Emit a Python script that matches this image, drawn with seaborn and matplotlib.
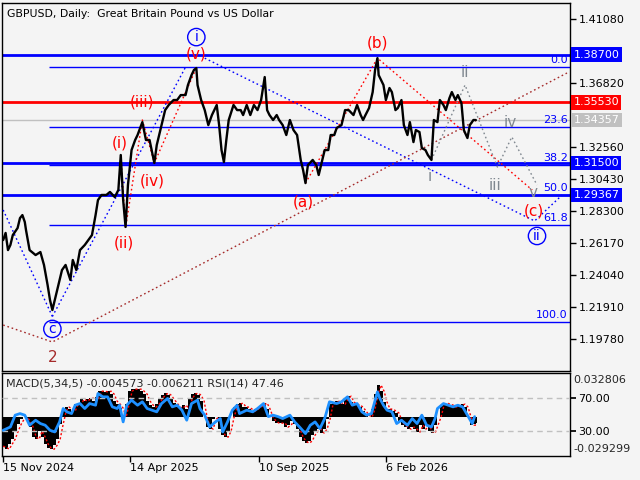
import numpy as np
import matplotlib
matplotlib.use("Agg")
import matplotlib.pyplot as plt
import matplotlib.transforms as mtransforms
import seaborn as sns

sns.set_theme(style="white")
plt.rcParams["font.family"] = ["DejaVu Sans"]

BG = "#f4f4f4"
BLUE = "#0000ff"
RED = "#ff0000"
BROWN = "#a52a2a"
GRAY = "#808890"

# ---------------- data ----------------
price_bar = [0, 2, 4, 6, 8, 12, 14, 16, 18, 19, 22, 27, 31, 34, 37, 39, 41, 43, 46, 49,
             52, 56, 58, 61, 64, 68, 71, 74, 77, 79, 82, 86, 89, 93, 96, 98, 100, 102, 104, 107,
             110, 112, 116, 119, 122, 126, 128, 132, 135, 138, 142, 145, 148, 152, 154, 157, 159, 161, 162, 165,
             168, 171, 174, 178, 180, 182, 184, 186, 188, 192, 195, 198, 200, 203, 206, 209, 212, 215, 218, 220,
             222, 225, 228, 230, 233, 236, 239, 242, 245, 248, 250, 252, 254, 258, 261, 263, 266, 268, 271, 273,
             276, 278, 282, 285, 288, 292, 295, 298, 300, 302, 305, 308, 310, 312, 313, 317, 319, 322, 324, 327,
             329, 332, 334, 337, 339, 342, 344, 347, 349, 352, 354, 357, 359, 362, 364, 367, 369, 372, 374, 377,
             379, 382, 384, 387, 389, 392, 394]
price_close = [1.2637, 1.2684, 1.2570, 1.2604, 1.2670, 1.2717, 1.2783, 1.2803, 1.2757, 1.2704,
               1.2570, 1.2537, 1.2557, 1.2471, 1.2338, 1.2238, 1.2171, 1.2238, 1.2338, 1.2437,
               1.2471, 1.2371, 1.2504, 1.2437, 1.2570, 1.2604, 1.2637, 1.2670, 1.2803, 1.2903,
               1.2937, 1.2937, 1.2957, 1.2923, 1.2970, 1.3203, 1.2903, 1.2724, 1.3003, 1.3236,
               1.3303, 1.3336, 1.3422, 1.3303, 1.3303, 1.3150, 1.3269, 1.3402, 1.3502, 1.3536,
               1.3569, 1.3569, 1.3602, 1.3602, 1.3669, 1.3735, 1.3769, 1.3782, 1.3669, 1.3569,
               1.3502, 1.3402, 1.3469, 1.3536, 1.3402, 1.3236, 1.3156, 1.3303, 1.3436, 1.3536,
               1.3502, 1.3502, 1.3469, 1.3536, 1.3469, 1.3536, 1.3502, 1.3569, 1.3722, 1.3502,
               1.3469, 1.3436, 1.3469, 1.3436, 1.3402, 1.3336, 1.3436, 1.3369, 1.3336, 1.3170,
               1.3103, 1.3016, 1.3136, 1.3170, 1.3136, 1.3070, 1.3170, 1.3236, 1.3236, 1.3336,
               1.3336, 1.3383, 1.3402, 1.3502, 1.3502, 1.3469, 1.3536, 1.3469, 1.3436, 1.3469,
               1.3516, 1.3622, 1.3769, 1.3848, 1.3735, 1.3669, 1.3569, 1.3649, 1.3622, 1.3502,
               1.3516, 1.3569, 1.3402, 1.3336, 1.3422, 1.3289, 1.3369, 1.3356, 1.3249, 1.3236,
               1.3203, 1.3170, 1.3436, 1.3422, 1.3569, 1.3536, 1.3502, 1.3582, 1.3622, 1.3569,
               1.3602, 1.3549, 1.3369, 1.3316, 1.3402, 1.3436, 1.34357]

date_tick_bars = [0, 106, 213, 319]
date_tick_labels = ["15 Nov 2024", "14 Apr 2025", "10 Sep 2025", "6 Feb 2026"]

price_ticks = [1.19780, 1.21910, 1.24040, 1.26170, 1.28300, 1.30430,
               1.32560, 1.34690, 1.36820, 1.38950, 1.41080]
hidden_tick_labels = [1.34690, 1.38950]   # covered by the level boxes

key_levels = [1.38700, 1.35530, 1.34357, 1.31500, 1.29367]
key_colors = [BLUE, RED, "#c0c0c0", BLUE, BLUE]
key_widths = [2.0, 2.0, 1.0, 2.0, 2.0]

fib_high = 1.3788
fib_low = 1.2091
fib_start_bar = 38
fib_pcts = [0.0, 23.6, 38.2, 50.0, 61.8, 100.0]

# wave labels: text, bar, price, colour, circled, fontsize
wave_labels = [
    ("i", 161, 1.3988, BLUE, True, 10),
    ("(v)", 161, 1.3875, RED, False, 11),
    ("(iii)", 116, 1.3556, RED, False, 11),
    ("(i)", 97.5, 1.3283, RED, False, 11),
    ("(iv)", 124, 1.3030, RED, False, 11),
    ("(ii)", 101, 1.2617, RED, False, 11),
    ("c", 41, 1.2045, BLUE, True, 10),
    ("2", 41, 1.1855, BROWN, False, 11),
    ("(a)", 250, 1.2890, RED, False, 11),
    ("(b)", 312, 1.3948, RED, False, 11),
    ("ii", 385, 1.3749, GRAY, False, 11),
    ("i", 356, 1.3063, GRAY, False, 11),
    ("iii", 410, 1.3003, GRAY, False, 11),
    ("iv", 422.5, 1.3422, GRAY, False, 11),
    ("v", 442, 1.2956, GRAY, False, 11),
    ("(c)", 442.5, 1.2830, RED, False, 11),
    ("ii", 445, 1.2664, BLUE, True, 10),
]

# dotted wave paths: colour, bars, prices
wave_paths = [
    (BLUE, [0, 41], [1.2837, 1.2128]),
    (BLUE, [41, 152], [1.2128, 1.3788]),
    (BLUE, [168, 443, 466], [1.3848, 1.2764, 1.2937]),
    (RED, [98, 102, 116, 126, 161], [1.3203, 1.2717, 1.3436, 1.3150, 1.3782]),
    (RED, [252, 312, 441], [1.3016, 1.3848, 1.2970]),
    (BROWN, [0, 41, 470], [1.2071, 1.1958, 1.3749]),
    (GRAY, [357, 385, 412, 424, 445], [1.3170, 1.3669, 1.3123, 1.3323, 1.3003]),
]

macd_step = 2.5
macd_vals = [-0.0227, -0.0242, -0.0204, -0.0167, -0.0107, -0.0055, -0.0017, -0.0002, -0.0032, -0.0077,
             -0.0152, -0.0167, -0.0107, -0.0152, -0.0204, -0.0234, -0.0242, -0.0212, -0.0167, -0.0055,
             0.0043, 0.0073, 0.0058, 0.0043, 0.0095, 0.0095, 0.0132, 0.0117, 0.0132, 0.0140,
             0.0117, 0.0147, 0.0192, 0.0192, 0.0185, 0.0192, 0.0170, 0.0117, 0.0095, 0.0065,
             -0.0002, 0.0095, 0.0192, 0.0207, 0.0207, 0.0207, 0.0192, 0.0170, 0.0117, 0.0088,
             0.0073, 0.0095, 0.0132, 0.0162, 0.0177, 0.0162, 0.0132, 0.0103, 0.0073, 0.0065,
             0.0088, 0.0058, 0.0132, 0.0170, 0.0177, 0.0162, 0.0117, -0.0002, -0.0077, -0.0092,
             -0.0017, -0.0002, -0.0092, -0.0137, -0.0152, -0.0107, -0.0002, 0.0073, 0.0095, 0.0103,
             0.0073, 0.0073, 0.0058, 0.0043, 0.0058, 0.0073, 0.0088, 0.0103, 0.0058, -0.0002,
             -0.0032, -0.0047, -0.0047, -0.0047, -0.0077, -0.0062, -0.0032, -0.0055, -0.0092, -0.0152,
             -0.0182, -0.0197, -0.0182, -0.0137, -0.0107, -0.0092, -0.0122, -0.0092, -0.0017, 0.0095,
             0.0103, 0.0117, 0.0103, 0.0095, 0.0132, 0.0155, 0.0110, 0.0095, 0.0088, 0.0073,
             0.0043, 0.0013, -0.0002, 0.0058, 0.0170, 0.0237, 0.0192, 0.0110, 0.0058, 0.0058,
             0.0043, 0.0028, -0.0032, -0.0062, -0.0077, -0.0092, -0.0077, -0.0092, -0.0114, -0.0062,
             -0.0092, -0.0062, -0.0107, -0.0122, -0.0062, -0.0002, 0.0088, 0.0103, 0.0095, 0.0088,
             0.0073, 0.0080, 0.0088, 0.0095, 0.0073, -0.0002, -0.0062, -0.0055, -0.0046]
macd_signal = [-0.0220, -0.0227, -0.0242, -0.0204, -0.0167, -0.0107, -0.0055, -0.0017, -0.0002, -0.0032,
               -0.0077, -0.0152, -0.0167, -0.0107, -0.0152, -0.0204, -0.0234, -0.0242, -0.0212, -0.0167,
               -0.0055, 0.0043, 0.0073, 0.0058, 0.0043, 0.0095, 0.0095, 0.0132, 0.0117, 0.0132,
               0.0140, 0.0117, 0.0147, 0.0192, 0.0192, 0.0185, 0.0192, 0.0170, 0.0117, 0.0095,
               0.0065, -0.0002, 0.0095, 0.0192, 0.0207, 0.0207, 0.0207, 0.0192, 0.0170, 0.0117,
               0.0088, 0.0073, 0.0095, 0.0132, 0.0162, 0.0177, 0.0162, 0.0132, 0.0103, 0.0073,
               0.0065, 0.0088, 0.0058, 0.0132, 0.0170, 0.0177, 0.0162, 0.0117, -0.0002, -0.0077,
               -0.0092, -0.0017, -0.0002, -0.0092, -0.0137, -0.0152, -0.0107, -0.0002, 0.0073, 0.0095,
               0.0103, 0.0073, 0.0073, 0.0058, 0.0043, 0.0058, 0.0073, 0.0088, 0.0103, 0.0058,
               -0.0002, -0.0032, -0.0047, -0.0047, -0.0047, -0.0077, -0.0062, -0.0032, -0.0055, -0.0092,
               -0.0152, -0.0182, -0.0197, -0.0182, -0.0137, -0.0107, -0.0092, -0.0122, -0.0092, -0.0017,
               0.0095, 0.0103, 0.0117, 0.0103, 0.0095, 0.0132, 0.0155, 0.0110, 0.0095, 0.0088,
               0.0073, 0.0043, 0.0013, -0.0002, 0.0058, 0.0170, 0.0237, 0.0192, 0.0110, 0.0058,
               0.0058, 0.0043, 0.0028, -0.0032, -0.0062, -0.0077, -0.0092, -0.0077, -0.0092, -0.0114,
               -0.0062, -0.0092, -0.0062, -0.0107, -0.0122, -0.0062, -0.0002, 0.0088, 0.0103, 0.0095,
               0.0088, 0.0073, 0.0080, 0.0088, 0.0095, 0.0073, -0.0002, -0.0062, -0.0062]

rsi_bar = [0, 6, 10, 14, 18, 22, 27, 31, 35, 39, 43, 47, 50, 53, 57, 60, 64, 68, 72, 77,
           79, 83, 87, 91, 95, 97, 100, 103, 107, 112, 116, 120, 124, 128, 132, 137, 141, 145, 149, 153,
           157, 162, 164, 168, 172, 177, 181, 183, 187, 191, 195, 197, 203, 208, 212, 217, 221, 225, 229, 233,
           239, 243, 247, 252, 256, 260, 264, 268, 272, 278, 282, 287, 291, 295, 299, 303, 307, 312, 314, 317,
           320, 324, 328, 332, 337, 341, 345, 349, 353, 357, 360, 362, 367, 371, 375, 379, 383, 387, 391, 393]
rsi_vals = [31.0, 35.0, 49.2, 51.1, 49.2, 37.1, 43.1, 39.1, 37.1, 31.0,
            29.0, 41.1, 57.2, 53.2, 51.1, 61.2, 63.2, 57.2, 63.2, 61.2,
            75.3, 71.3, 71.3, 59.2, 57.2, 61.2, 41.1, 61.2, 67.3, 61.2,
            65.3, 57.2, 55.2, 53.2, 63.2, 69.3, 59.2, 61.2, 55.2, 43.1,
            63.2, 67.3, 57.2, 49.2, 35.0, 41.1, 45.1, 29.0, 41.1, 55.2,
            61.2, 51.1, 55.2, 53.2, 57.2, 63.2, 47.5, 49.2, 47.5, 45.1,
            49.2, 41.1, 35.0, 27.0, 37.1, 41.1, 33.0, 45.1, 65.3, 63.2,
            65.3, 71.3, 61.2, 63.2, 53.2, 49.2, 51.1, 77.3, 69.3, 61.2,
            55.2, 53.2, 39.1, 43.1, 37.1, 45.1, 39.1, 49.2, 37.1, 35.0,
            45.1, 57.2, 63.2, 61.2, 59.2, 61.2, 59.2, 49.2, 39.1, 47.46]
rsi_levels = [70, 30]
macd_top, macd_bottom = 0.032806, -0.029299

XMIN, XMAX = -1, 472.5

# ---------------- figure ----------------
fig = plt.figure(figsize=(6.4, 4.8), dpi=100, facecolor=BG)
ax = fig.add_axes([2 / 640, 1 - 371 / 480, 568 / 640, 368 / 480])
axm = fig.add_axes([2 / 640, 1 - 456 / 480, 568 / 640, 83 / 480])
for a in (ax, axm):
    a.set_facecolor(BG)
    for s in a.spines.values():
        s.set_visible(True)
        s.set_color("black")
        s.set_linewidth(1)

ax.set_xlim(XMIN, XMAX)
ax.set_ylim(1.1765, 1.4215)

# key horizontal levels
for lv, c, w in zip(key_levels, key_colors, key_widths):
    ax.axhline(lv, color=c, lw=w, zorder=2)

# fibonacci levels
for pct in fib_pcts:
    lv = fib_high - (fib_high - fib_low) * pct / 100.0
    ax.hlines(lv, fib_start_bar, XMAX, color=BLUE, lw=1, zorder=2)
    ax.text(XMAX - 2, lv + 0.0012, f"{pct:.1f}", color=BLUE, fontsize=8,
            ha="right", va="bottom", zorder=3)

# wave paths
for c, xs, ys in wave_paths:
    ax.plot(xs, ys, color=c, lw=1, linestyle=(0, (1.2, 2)), zorder=3)

# price
sns.lineplot(x=price_bar, y=price_close, ax=ax, color="black", lw=1.7,
             estimator=None, sort=False, zorder=4)

# wave labels
for t, b, p, c, circ, fs in wave_labels:
    kw = {}
    if circ:
        kw["bbox"] = dict(boxstyle="circle,pad=0.12", fc="none", ec=BLUE, lw=1)
    ax.text(b, p, t, color=c, fontsize=fs, ha="center", va="center", zorder=5, **kw)

ax.text(0.008, 0.985, "GBPUSD, Daily:  Great Britain Pound vs US Dollar",
        transform=ax.transAxes, ha="left", va="top", fontsize=7.8, color="black")

ax.set_xticks([])
ax.yaxis.tick_right()
ax.set_yticks(price_ticks)
ax.set_yticklabels(["" if v in hidden_tick_labels else f"{v:.5f}" for v in price_ticks])
ax.tick_params(axis="y", direction="out", length=4, width=1, labelsize=8, pad=2,
               right=True, left=False, colors="black")
ax.set_xlabel("")
ax.set_ylabel("")

trans = mtransforms.blended_transform_factory(ax.transAxes, ax.transData)
for lv, c in zip(key_levels, key_colors):
    ax.text(1.006, lv, f"{lv:.5f}", transform=trans, color="white", fontsize=8,
            ha="left", va="center", zorder=6, clip_on=False,
            bbox=dict(boxstyle="square,pad=0.22", fc=c, ec="none"))

# ---------------- indicator panel ----------------
macd_x = np.arange(len(macd_vals)) * macd_step
axm.set_xlim(XMIN, XMAX)
axm.set_ylim(macd_bottom, macd_top)
axm.fill_between(macd_x, 0, macd_vals, step="mid", color="black", lw=0, zorder=2)
axm.plot(macd_x, macd_signal, color=RED, lw=1, linestyle=(0, (1.5, 1.5)), zorder=3)

axr = axm.twinx()
axr.set_ylim(0, 100)
axr.set_xlim(XMIN, XMAX)
axr.set_facecolor("none")
for lv in rsi_levels:
    axr.axhline(lv, color="#c0c0c0", lw=1, linestyle=(0, (4, 3)), zorder=1)
sns.lineplot(x=rsi_bar, y=rsi_vals, ax=axr, color="#1e90ff", lw=2,
             estimator=None, sort=False, zorder=4)
axr.set_ylabel("")
axr.set_yticks(rsi_levels)
axr.set_yticklabels([f"{v:.2f}" for v in rsi_levels])
axr.tick_params(axis="y", direction="out", length=4, labelsize=8, pad=2, colors="black")
for s in axr.spines.values():
    s.set_visible(False)

axm.set_yticks([])
axm.text(1.006, 0.92, f"{macd_top:.6f}", transform=axm.transAxes, fontsize=8,
         ha="left", va="center", clip_on=False)
axm.text(1.006, 0.09, f"{macd_bottom:.6f}", transform=axm.transAxes, fontsize=8,
         ha="left", va="center", clip_on=False)
axm.text(0.007, 0.93, "MACD(5,34,5) -0.004573 -0.006211 RSI(14) 47.46",
         transform=axm.transAxes, fontsize=8, ha="left", va="top")

axm.set_xticks(date_tick_bars)
axm.set_xticklabels(date_tick_labels, ha="left")
axm.tick_params(axis="x", direction="out", length=4, width=1, labelsize=8, pad=1,
                bottom=True, colors="black")
axr.tick_params(axis="x", bottom=False, labelbottom=False)

fig.savefig("out.png", dpi=100, facecolor=BG)
